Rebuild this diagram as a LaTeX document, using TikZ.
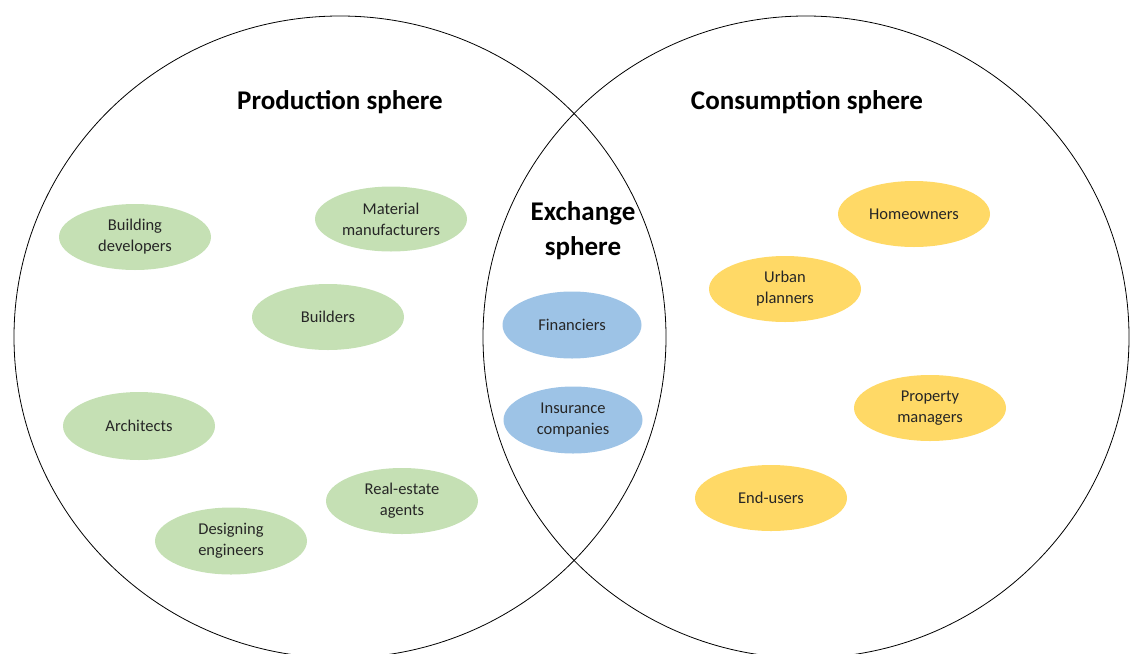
\documentclass[tikz,border=0pt]{standalone}
\usepackage{fontspec}
\setmainfont{Carlito}
\usetikzlibrary{positioning,shapes.geometric}
\definecolor{prodgreen}{HTML}{C5E0B4}
\definecolor{exchblue}{HTML}{9DC3E6}
\definecolor{consyellow}{HTML}{FFD966}

\begin{document}
\begin{tikzpicture}[x=1pt,y=-1pt,
  actor/.style={ellipse,minimum width=152pt,minimum height=66pt,inner sep=0pt,
    align=center,font=\fontsize{16.5}{21}\selectfont,text=black!85},
  prod/.style={actor,fill=prodgreen},
  exch/.style={actor,fill=exchblue,minimum width=139pt,minimum height=67pt},
  cons/.style={actor,fill=consyellow},
  sphere/.style={font=\fontsize{27}{35}\selectfont\bfseries,align=center}]
\useasboundingbox (0,0) rectangle (1131,653);
% the three spheres
\draw[line width=0.8pt] (340,337) ellipse [x radius=326pt,y radius=321pt];
\draw[line width=0.8pt] (806,337) ellipse [x radius=323pt,y radius=321pt];
\node[sphere] (production) at (340,102) {Production sphere};
\node[sphere] (consumption) at (807,102) {Consumption sphere};
\node[sphere] (exchange) at (583,231) {Exchange\\sphere};
% production actors
\node[prod] (developers) at (135,237) {Building\\developers};
\node[prod,minimum height=65pt] (manufacturers) at (391,219) {Material\\manufacturers};
\node[prod] (builders) at (328,317) {Builders};
\node[prod,minimum height=68pt] (architects) at (139,426) {Architects};
\node[prod] (agents) at (402,501) {Real-estate\\agents};
\node[prod,minimum height=67pt] (engineers) at (231,541) {Designing\\engineers};
% exchange actors
\node[exch] (financiers) at (572,325) {Financiers};
\node[exch] (insurance) at (573,420) {Insurance\\companies};
% consumption actors
\node[cons] (homeowners) at (914,214) {Homeowners};
\node[cons] (planners) at (785,289) {Urban\\planners};
\node[cons] (managers) at (930,408) {Property\\managers};
\node[cons] (endusers) at (771,498) {End-users};
\end{tikzpicture}
\end{document}
